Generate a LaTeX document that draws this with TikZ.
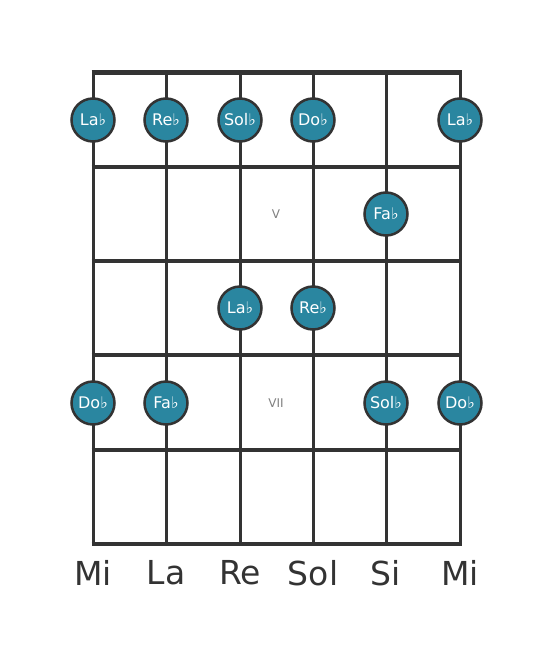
\documentclass[tikz,border=0pt]{standalone}
\usepackage{fontspec}
\setmainfont{DejaVu Sans}
\usepackage{xcolor}
\definecolor{notefill}{HTML}{2A86A0}
\definecolor{linedark}{HTML}{333333}
\tikzset{
  note/.style={circle, draw=linedark, line width=2.5pt, fill=notefill,
    minimum size=43pt, inner sep=0pt, text=white, font=\fontsize{16}{16}\selectfont},
  fretno/.style={text=gray, font=\fontsize{12}{12}\selectfont},
  strname/.style={text=linedark, font=\fontsize{33}{33}\selectfont}
}
\begin{document}
\begin{tikzpicture}[x=1pt, y=-1pt]
      \useasboundingbox (0,0) rectangle (553,656);
      % strings
      \foreach \sx in {93,166,240,313,386,460}
        \draw[linedark, line width=3pt] (\sx,72) -- (\sx,544);
      % frets
      \foreach \fy in {167,261,355,450,544}
        \draw[linedark, line width=4pt] (91.5,\fy) -- (461.5,\fy);
      \draw[linedark, line width=5pt] (91.5,72) -- (461.5,72);
      \node[fretno] (five) at (276,214) {V};
      \node[fretno] (seven) at (276,403) {VII};
      % notes
      \node[note] (n1) at (93,120) {La♭};
      \node[note] (n2) at (166,120) {Re♭};
      \node[note] (n3) at (240,120) {Sol♭};
      \node[note] (n4) at (313,120) {Do♭};
      \node[note] (n5) at (460,120) {La♭};
      \node[note] (n6) at (386,214) {Fa♭};
      \node[note] (n7) at (240,308) {La♭};
      \node[note] (n8) at (313,308) {Re♭};
      \node[note] (n9) at (93,403) {Do♭};
      \node[note] (n10) at (166,403) {Fa♭};
      \node[note] (n11) at (386,403) {Sol♭};
      \node[note] (n12) at (460,403) {Do♭};
      % open strings
      \node[strname] (s1) at (93,573) {Mi};
      \node[strname] (s2) at (166,573) {La};
      \node[strname] (s3) at (240,573) {Re};
      \node[strname] (s4) at (313,573) {Sol};
      \node[strname] (s5) at (386,573) {Si};
      \node[strname] (s6) at (460,573) {Mi};
\end{tikzpicture}
\end{document}
